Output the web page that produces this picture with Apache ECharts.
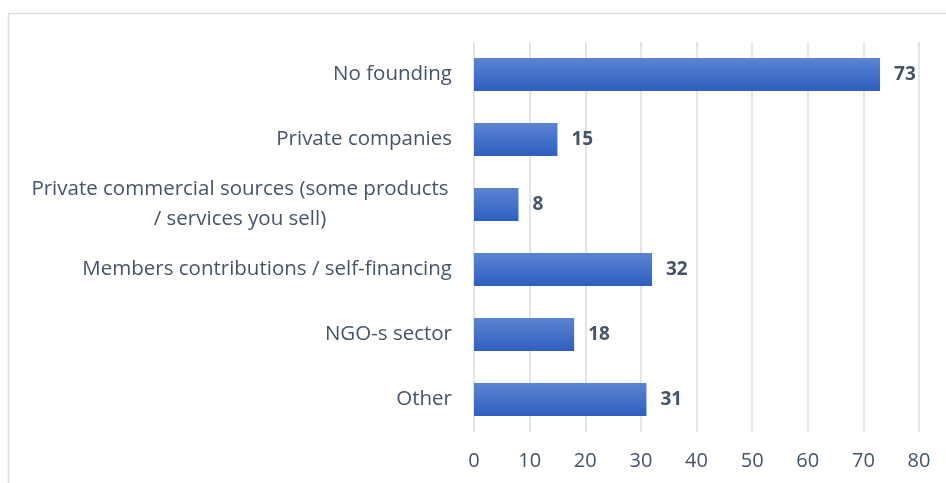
<!DOCTYPE html>
<html>
<head>
<meta charset="utf-8">
<script src="https://cdn.jsdelivr.net/npm/echarts@6/dist/echarts.min.js"></script>
<style>
  html, body { margin: 0; padding: 0; background: #fff; }
  #main { width: 946px; height: 483px; }
</style>
</head>
<body>
<div id="main"></div>
<script>
// categories listed bottom to top (category axis starts at the bottom)
const categories = [
  'Other',
  'NGO-s sector',
  'Members contributions / self-financing',
  'Private commercial sources (some products\n/ services you sell)',
  'Private companies',
  'No founding'
]
const values = [31, 18, 32, 8, 15, 73]
const xTicks = [0, 10, 20, 30, 40, 50, 60, 70, 80]

const textColor = '#44546a'
const gridColor = '#d9dde4'

const myChart = echarts.init(document.getElementById('main'))
myChart.setOption({
  animation: false,
  graphic: [
    {
      type: 'rect',
      shape: { x: 8.5, y: 13.5, width: 1000, height: 600 },
      style: { fill: 'none', stroke: gridColor, lineWidth: 1.5 },
      silent: true
    }
  ],
  grid: { left: 474, right: 27, top: 42, bottom: 51 },
  xAxis: {
    type: 'value',
    min: xTicks[0],
    max: xTicks[xTicks.length - 1],
    interval: 10,
    axisLine: { show: false },
    axisTick: { show: false },
    splitLine: { lineStyle: { color: gridColor, width: 1.5 } },
    axisLabel: {
      color: textColor,
      fontFamily: 'Open Sans',
      fontSize: 20,
      margin: 19
    }
  },
  yAxis: {
    type: 'category',
    data: categories,
    axisLine: { show: false },
    axisTick: { show: false },
    axisLabel: {
      color: textColor,
      fontFamily: 'Open Sans',
      fontSize: 20.5,
      margin: 22,
      lineHeight: 30,
      formatter: function (v) {
        if (v.indexOf('\n') >= 0) {
          return v.split('\n').map(s => '{c|' + s + '}').join('\n')
        }
        return v
      },
      rich: {
        c: {
          width: 424,
          align: 'center',
          color: textColor,
          fontFamily: 'Open Sans',
          fontSize: 20.5,
          lineHeight: 30
        }
      }
    }
  },
  series: [
    {
      type: 'bar',
      data: values,
      barWidth: '51%',
      itemStyle: {
        color: new echarts.graphic.LinearGradient(0, 0, 0, 1, [
          { offset: 0, color: '#5c84d2' },
          { offset: 1, color: '#2e5fbf' }
        ])
      },
      label: {
        show: true,
        position: 'right',
        distance: 14,
        color: textColor,
        fontFamily: 'Open Sans',
        fontWeight: 'bold',
        fontSize: 19
      }
    }
  ]
})
</script>
</body>
</html>
